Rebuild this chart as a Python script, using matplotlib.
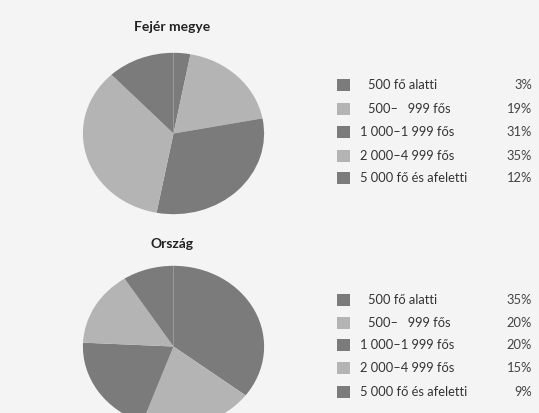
import matplotlib
matplotlib.use("Agg")
import matplotlib.pyplot as plt
from matplotlib.patches import Rectangle

categories = ["500 fő alatti", "500–   999 fős", "1 000–1 999 fős", "2 000–4 999 fős", "5 000 fő és afeletti"]
fejer_values = [3, 19, 31, 35, 12]
orszag_values = [35, 20, 20, 15, 9]
titles = ["Fejér megye", "Ország"]

DARK = "#7b7b7b"
LIGHT = "#b4b4b4"
colors = [DARK, LIGHT, DARK, LIGHT, DARK]
BG = "#f4f4f4"
FONT = ["Lato", "DejaVu Sans"]

W, H = 539, 413
fig = plt.figure(figsize=(W / 100, H / 100), dpi=100, facecolor=BG)

def px_axes(x0, y0, w, h):
    return fig.add_axes([x0 / W, 1 - (y0 + h) / H, w / W, h / H])

pie_boxes = [(82, 52, 183, 163), (82, 265, 183, 163)]
title_y = [27, 244]
legend_rows = [[85, 109, 132, 156, 178], [300, 323, 345, 368, 392]]

for values, title, box, ty, rows in zip([fejer_values, orszag_values], titles, pie_boxes, title_y, legend_rows):
    ax = px_axes(*box)
    ax.pie(values, colors=colors, startangle=90, counterclock=False,
           wedgeprops=dict(linewidth=0))
    ax.set_aspect("auto")
    ax.set_xlim(-1.01, 1.01)
    ax.set_ylim(-1.01, 1.01)
    ax.set_facecolor("none")
    fig.text(172 / W, 1 - ty / H, title, ha="center", va="center",
             fontsize=10, fontweight="bold", family=FONT, color="#222222")
    lax = px_axes(330, rows[0] - 12, 209, rows[-1] - rows[0] + 24)
    lax.set_xlim(330, 539)
    lax.set_ylim(rows[-1] + 12, rows[0] - 12)
    lax.axis("off")
    for cat, val, col, y in zip(categories, values, colors, rows):
        lax.add_patch(Rectangle((337, y - 6), 13, 12, facecolor=col, edgecolor="none"))
        xs = 368 if cat.startswith("500") else 360
        lax.text(xs, y, cat, ha="left", va="center", fontsize=9.3, family=FONT, color="#333333")
        lax.text(532, y, f"{val}%", ha="right", va="center", fontsize=9.3, family=FONT, color="#444444")

fig.savefig("out.png", dpi=100, facecolor=BG)
